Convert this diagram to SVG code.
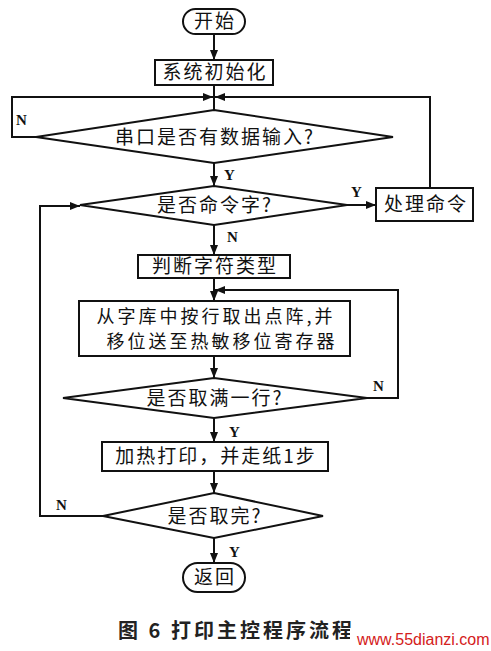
<svg xmlns="http://www.w3.org/2000/svg" width="491" height="651" viewBox="0 0 491 651">
<defs>
<marker id="ah" viewBox="0 0 10 8" refX="10" refY="4" markerWidth="10" markerHeight="8" markerUnits="userSpaceOnUse" orient="auto">
<path d="M0,0 L10,4 L0,8 Z" fill="#111"/>
</marker>
</defs>
<style>
.shape{fill:#fff;stroke:#111;stroke-width:2}
.ln{fill:none;stroke:#111;stroke-width:2}
.arr{fill:none;stroke:#111;stroke-width:2;marker-end:url(#ah)}
.t{font-family:"Noto Sans CJK SC","Noto Sans CJK JP",sans-serif;font-size:19px;fill:#111;text-anchor:middle;letter-spacing:2px}
.t2{font-family:"Noto Sans CJK SC","Noto Sans CJK JP",sans-serif;font-size:18px;fill:#111;text-anchor:middle;letter-spacing:3px}
.lbl{font-family:"Liberation Serif",serif;font-size:15px;font-weight:bold;fill:#111}
.cap{font-family:"Noto Sans CJK SC",sans-serif;font-size:20px;font-weight:bold;fill:#222;letter-spacing:3px}
.wm{font-family:"Liberation Sans",sans-serif;font-size:16px;fill:#d42020}
</style>
<rect width="491" height="651" fill="#fff"/>
<g id="connectors">
<line class="arr" x1="214" y1="34" x2="214" y2="60"/>
<line class="ln" x1="214" y1="85" x2="214" y2="110"/>
<polyline class="ln" points="36,137 12,137 12,97 430,97 430,188"/>
<line class="arr" x1="195" y1="97" x2="213" y2="97"/>
<line class="arr" x1="233" y1="97" x2="215" y2="97"/>
<line class="arr" x1="214" y1="163" x2="214" y2="186"/>
<line class="arr" x1="347" y1="205" x2="376" y2="205"/>
<line class="arr" x1="214" y1="225" x2="214" y2="255"/>
<line class="arr" x1="214" y1="278" x2="214" y2="301"/>
<polyline class="arr" points="367,398 398,398 398,290 215,290"/>
<line class="arr" x1="214" y1="356" x2="214" y2="378"/>
<line class="arr" x1="214" y1="418" x2="214" y2="442"/>
<line class="arr" x1="214" y1="471" x2="214" y2="493"/>
<polyline class="arr" points="103,516 40,516 40,206 80,206"/>
<line class="arr" x1="214" y1="538" x2="214" y2="563"/>
<text class="lbl" x="16" y="125">N</text>
<text class="lbl" x="224" y="180">Y</text>
<text class="lbl" x="351" y="197">Y</text>
<text class="lbl" x="227" y="242">N</text>
<text class="lbl" x="373" y="391">N</text>
<text class="lbl" x="229" y="437">Y</text>
<text class="lbl" x="56" y="510">N</text>
<text class="lbl" x="229" y="557">Y</text>
</g>
<g id="start">
<rect class="shape" x="183" y="9" width="62" height="25" rx="12.5"/>
<text class="t" x="215" y="28">开始</text>
</g>
<g id="init">
<rect class="shape" x="155" y="60" width="118" height="25"/>
<text class="t" x="215" y="79">系统初始化</text>
</g>
<g id="d1">
<polygon class="shape" points="214,110 393,137 214,163 36,137"/>
<text class="t" x="215" y="144">串口是否有数据输入?</text>
</g>
<g id="d2">
<polygon class="shape" points="214,186 347,205 214,225 80,205"/>
<text class="t" x="215" y="212">是否命令字?</text>
</g>
<g id="cmd">
<rect class="shape" x="376" y="188" width="97" height="33"/>
<text class="t" x="426" y="211">处理命令</text>
</g>
<g id="type">
<rect class="shape" x="138" y="255" width="152" height="23"/>
<text class="t" x="215" y="273">判断字符类型</text>
</g>
<g id="fetch">
<rect class="shape" x="79" y="301" width="271" height="55"/>
<text class="t2" x="216" y="323">从字库中按行取出点阵,并</text>
<text class="t2" x="222" y="348">移位送至热敏移位寄存器</text>
</g>
<g id="d3">
<polygon class="shape" points="214,378 367,398 214,418 63,398"/>
<text class="t" x="215" y="405">是否取满一行?</text>
</g>
<g id="print">
<rect class="shape" x="102" y="442" width="226" height="29"/>
<text class="t" x="216" y="463">加热打印，并走纸1步</text>
</g>
<g id="d4">
<polygon class="shape" points="214,493 323,516 214,538 103,516"/>
<text class="t" x="215" y="523">是否取完?</text>
</g>
<g id="end">
<rect class="shape" x="183" y="563" width="62" height="29" rx="14.5"/>
<text class="t" x="215" y="584">返回</text>
</g>
<g id="caption">
<text class="cap" x="118" y="638">图 6  打印主控程序流程</text>
<rect x="350" y="628" width="141" height="23" fill="#fff"/>
<text class="wm" x="357" y="645">www.55dianzi.com</text>
</g>
</svg>
